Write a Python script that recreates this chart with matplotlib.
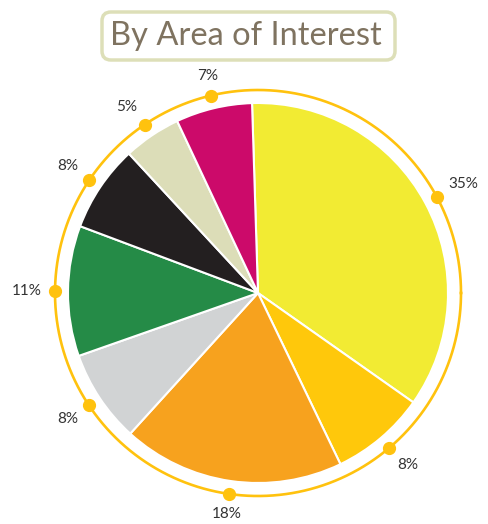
import numpy as np
import matplotlib.pyplot as plt
from matplotlib.patches import FancyBboxPatch

title = "By Area of Interest"
values = [35.3, 8.1, 18.9, 7.9, 11.1, 7.4, 4.9, 6.5]
labels = ["35%", "8%", "18%", "8%", "11%", "8%", "5%", "7%"]
colors = ["#F2EB33", "#FFC80B", "#F7A21E", "#D1D3D4", "#258B47", "#231F20", "#DCDDB8", "#CC0A6A"]

W, H = 488, 524
cx, cy = 258, 293
R = 190
ring_r = 203
start = 91.8

fig = plt.figure(figsize=(W / 100, H / 100), dpi=100)
ax = fig.add_axes([0, 0, 1, 1])
ax.pie(values, colors=colors, radius=R, center=(0, 0), startangle=start,
       counterclock=False, frame=True,
       wedgeprops=dict(edgecolor="white", linewidth=1.5))

ax.set_xlim(-cx, W - cx)
ax.set_ylim(-(H - cy), cy)
ax.set_aspect("equal")
ax.axis("off")

ring_color = "#FFC20E"
t = np.linspace(0, 2 * np.pi, 400)
ax.plot(ring_r * np.cos(t), ring_r * np.sin(t), color=ring_color, lw=1.9, zorder=3)

vals = np.array(values, dtype=float)
cum = np.cumsum(vals) - vals / 2
for frac, lab in zip(cum / vals.sum(), labels):
    ang = np.deg2rad(start - frac * 360)
    c, s = np.cos(ang), np.sin(ang)
    ax.plot(ring_r * c, ring_r * s, "o", color=ring_color, ms=8.5, zorder=4)
    ha = "left" if c > 0.25 else ("right" if c < -0.25 else "center")
    va = "bottom" if s > 0.25 else ("top" if s < -0.25 else "center")
    off = ring_r + 13
    ax.text(off * c, off * s, lab, ha=ha, va=va,
            fontsize=11, color="#333333", family="Lato")

# title box
box = FancyBboxPatch((102 - cx, cy - 60), 293, 48,
                     boxstyle="round,pad=0,rounding_size=9",
                     facecolor="white", edgecolor="#DDDFB8", linewidth=2.5, zorder=5)
ax.add_patch(box)
ax.text(246 - cx, cy - 36, title, ha="center", va="center", fontsize=23.5,
        color="#7F7360", family="Lato", zorder=6)

fig.savefig("out.png", dpi=100)
